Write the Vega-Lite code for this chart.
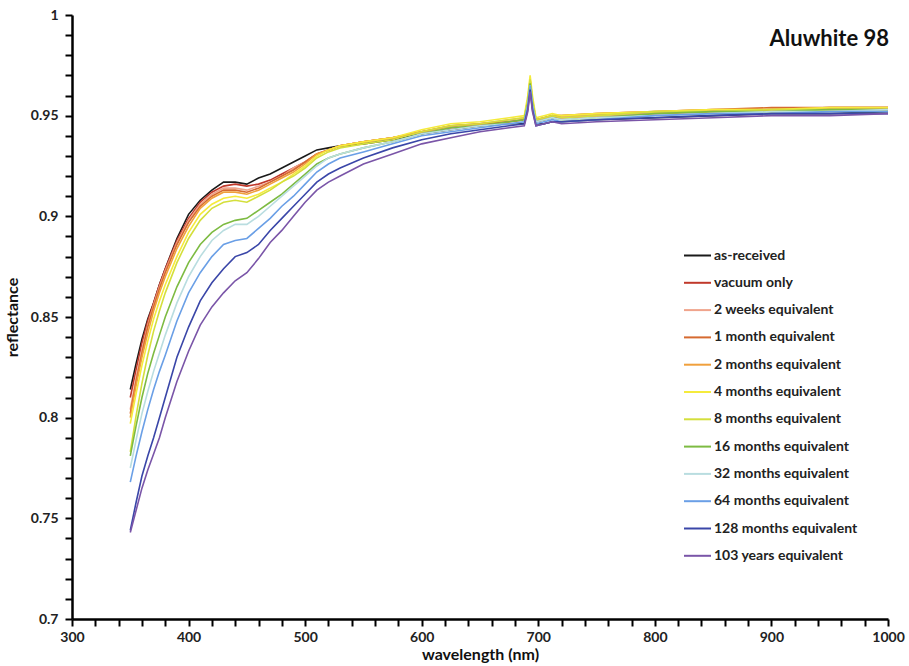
{
  "$schema": "https://vega.github.io/schema/vega-lite/v6.json",
  "width": 816,
  "height": 604,
  "autosize": {"type": "none"},
  "padding": {"left": 72, "top": 15, "right": 21, "bottom": 47},
  "background": "white",
  "config": {"view": {"stroke": null}, "font": "Lato"},
  "title": {"text": "Aluwhite 98", "anchor": "end", "frame": "group", "orient": "top", "baseline": "alphabetic", "dy": 64, "dx": 1, "fontSize": 22, "font": "Lato", "fontWeight": "bold", "color": "#111"},
  "data": {"values": [
{"s":"as-received","w":350,"r":0.814},{"s":"as-received","w":355,"r":0.827},{"s":"as-received","w":360,"r":0.839},{"s":"as-received","w":365,"r":0.849},{"s":"as-received","w":370,"r":0.857},{"s":"as-received","w":375,"r":0.866},{"s":"as-received","w":380,"r":0.874},{"s":"as-received","w":390,"r":0.889},{"s":"as-received","w":400,"r":0.901},{"s":"as-received","w":410,"r":0.908},{"s":"as-received","w":420,"r":0.913},{"s":"as-received","w":430,"r":0.917},{"s":"as-received","w":440,"r":0.917},{"s":"as-received","w":450,"r":0.916},{"s":"as-received","w":460,"r":0.919},{"s":"as-received","w":470,"r":0.921},{"s":"as-received","w":480,"r":0.924},{"s":"as-received","w":490,"r":0.927},{"s":"as-received","w":500,"r":0.930},{"s":"as-received","w":510,"r":0.933},{"s":"as-received","w":520,"r":0.934},{"s":"as-received","w":530,"r":0.935},{"s":"as-received","w":550,"r":0.936},{"s":"as-received","w":575,"r":0.938},{"s":"as-received","w":600,"r":0.941},{"s":"as-received","w":625,"r":0.943},{"s":"as-received","w":650,"r":0.945},{"s":"as-received","w":675,"r":0.946},{"s":"as-received","w":688,"r":0.946},{"s":"as-received","w":691,"r":0.954},{"s":"as-received","w":693,"r":0.965},{"s":"as-received","w":695,"r":0.954},{"s":"as-received","w":698,"r":0.946},{"s":"as-received","w":705,"r":0.946},{"s":"as-received","w":712,"r":0.947},{"s":"as-received","w":720,"r":0.947},{"s":"as-received","w":750,"r":0.948},{"s":"as-received","w":800,"r":0.949},{"s":"as-received","w":850,"r":0.950},{"s":"as-received","w":900,"r":0.951},{"s":"as-received","w":950,"r":0.951},{"s":"as-received","w":1000,"r":0.952},
{"s":"vacuum only","w":350,"r":0.810},{"s":"vacuum only","w":355,"r":0.824},{"s":"vacuum only","w":360,"r":0.837},{"s":"vacuum only","w":365,"r":0.848},{"s":"vacuum only","w":370,"r":0.857},{"s":"vacuum only","w":375,"r":0.866},{"s":"vacuum only","w":380,"r":0.874},{"s":"vacuum only","w":390,"r":0.888},{"s":"vacuum only","w":400,"r":0.899},{"s":"vacuum only","w":410,"r":0.907},{"s":"vacuum only","w":420,"r":0.912},{"s":"vacuum only","w":430,"r":0.915},{"s":"vacuum only","w":440,"r":0.916},{"s":"vacuum only","w":450,"r":0.915},{"s":"vacuum only","w":460,"r":0.916},{"s":"vacuum only","w":470,"r":0.918},{"s":"vacuum only","w":480,"r":0.921},{"s":"vacuum only","w":490,"r":0.924},{"s":"vacuum only","w":500,"r":0.927},{"s":"vacuum only","w":510,"r":0.931},{"s":"vacuum only","w":520,"r":0.933},{"s":"vacuum only","w":530,"r":0.935},{"s":"vacuum only","w":550,"r":0.937},{"s":"vacuum only","w":575,"r":0.939},{"s":"vacuum only","w":600,"r":0.942},{"s":"vacuum only","w":625,"r":0.944},{"s":"vacuum only","w":650,"r":0.946},{"s":"vacuum only","w":675,"r":0.947},{"s":"vacuum only","w":688,"r":0.948},{"s":"vacuum only","w":691,"r":0.957},{"s":"vacuum only","w":693,"r":0.967},{"s":"vacuum only","w":695,"r":0.957},{"s":"vacuum only","w":698,"r":0.947},{"s":"vacuum only","w":705,"r":0.948},{"s":"vacuum only","w":712,"r":0.949},{"s":"vacuum only","w":720,"r":0.949},{"s":"vacuum only","w":750,"r":0.950},{"s":"vacuum only","w":800,"r":0.951},{"s":"vacuum only","w":850,"r":0.952},{"s":"vacuum only","w":900,"r":0.953},{"s":"vacuum only","w":950,"r":0.954},{"s":"vacuum only","w":1000,"r":0.954},
{"s":"2 weeks equivalent","w":350,"r":0.804},{"s":"2 weeks equivalent","w":355,"r":0.820},{"s":"2 weeks equivalent","w":360,"r":0.834},{"s":"2 weeks equivalent","w":365,"r":0.846},{"s":"2 weeks equivalent","w":370,"r":0.856},{"s":"2 weeks equivalent","w":375,"r":0.865},{"s":"2 weeks equivalent","w":380,"r":0.873},{"s":"2 weeks equivalent","w":390,"r":0.887},{"s":"2 weeks equivalent","w":400,"r":0.898},{"s":"2 weeks equivalent","w":410,"r":0.906},{"s":"2 weeks equivalent","w":420,"r":0.911},{"s":"2 weeks equivalent","w":430,"r":0.914},{"s":"2 weeks equivalent","w":440,"r":0.914},{"s":"2 weeks equivalent","w":450,"r":0.913},{"s":"2 weeks equivalent","w":460,"r":0.915},{"s":"2 weeks equivalent","w":470,"r":0.917},{"s":"2 weeks equivalent","w":480,"r":0.920},{"s":"2 weeks equivalent","w":490,"r":0.924},{"s":"2 weeks equivalent","w":500,"r":0.927},{"s":"2 weeks equivalent","w":510,"r":0.931},{"s":"2 weeks equivalent","w":520,"r":0.933},{"s":"2 weeks equivalent","w":530,"r":0.935},{"s":"2 weeks equivalent","w":550,"r":0.937},{"s":"2 weeks equivalent","w":575,"r":0.939},{"s":"2 weeks equivalent","w":600,"r":0.942},{"s":"2 weeks equivalent","w":625,"r":0.944},{"s":"2 weeks equivalent","w":650,"r":0.946},{"s":"2 weeks equivalent","w":675,"r":0.947},{"s":"2 weeks equivalent","w":688,"r":0.948},{"s":"2 weeks equivalent","w":691,"r":0.957},{"s":"2 weeks equivalent","w":693,"r":0.967},{"s":"2 weeks equivalent","w":695,"r":0.957},{"s":"2 weeks equivalent","w":698,"r":0.948},{"s":"2 weeks equivalent","w":705,"r":0.949},{"s":"2 weeks equivalent","w":712,"r":0.950},{"s":"2 weeks equivalent","w":720,"r":0.949},{"s":"2 weeks equivalent","w":750,"r":0.950},{"s":"2 weeks equivalent","w":800,"r":0.951},{"s":"2 weeks equivalent","w":850,"r":0.952},{"s":"2 weeks equivalent","w":900,"r":0.953},{"s":"2 weeks equivalent","w":950,"r":0.953},{"s":"2 weeks equivalent","w":1000,"r":0.953},
{"s":"1 month equivalent","w":350,"r":0.802},{"s":"1 month equivalent","w":355,"r":0.818},{"s":"1 month equivalent","w":360,"r":0.832},{"s":"1 month equivalent","w":365,"r":0.845},{"s":"1 month equivalent","w":370,"r":0.855},{"s":"1 month equivalent","w":375,"r":0.864},{"s":"1 month equivalent","w":380,"r":0.872},{"s":"1 month equivalent","w":390,"r":0.886},{"s":"1 month equivalent","w":400,"r":0.897},{"s":"1 month equivalent","w":410,"r":0.905},{"s":"1 month equivalent","w":420,"r":0.910},{"s":"1 month equivalent","w":430,"r":0.913},{"s":"1 month equivalent","w":440,"r":0.913},{"s":"1 month equivalent","w":450,"r":0.912},{"s":"1 month equivalent","w":460,"r":0.914},{"s":"1 month equivalent","w":470,"r":0.917},{"s":"1 month equivalent","w":480,"r":0.920},{"s":"1 month equivalent","w":490,"r":0.923},{"s":"1 month equivalent","w":500,"r":0.927},{"s":"1 month equivalent","w":510,"r":0.931},{"s":"1 month equivalent","w":520,"r":0.933},{"s":"1 month equivalent","w":530,"r":0.935},{"s":"1 month equivalent","w":550,"r":0.937},{"s":"1 month equivalent","w":575,"r":0.939},{"s":"1 month equivalent","w":600,"r":0.942},{"s":"1 month equivalent","w":625,"r":0.945},{"s":"1 month equivalent","w":650,"r":0.946},{"s":"1 month equivalent","w":675,"r":0.947},{"s":"1 month equivalent","w":688,"r":0.948},{"s":"1 month equivalent","w":691,"r":0.957},{"s":"1 month equivalent","w":693,"r":0.967},{"s":"1 month equivalent","w":695,"r":0.957},{"s":"1 month equivalent","w":698,"r":0.948},{"s":"1 month equivalent","w":705,"r":0.949},{"s":"1 month equivalent","w":712,"r":0.950},{"s":"1 month equivalent","w":720,"r":0.950},{"s":"1 month equivalent","w":750,"r":0.951},{"s":"1 month equivalent","w":800,"r":0.952},{"s":"1 month equivalent","w":850,"r":0.953},{"s":"1 month equivalent","w":900,"r":0.954},{"s":"1 month equivalent","w":950,"r":0.954},{"s":"1 month equivalent","w":1000,"r":0.954},
{"s":"2 months equivalent","w":350,"r":0.800},{"s":"2 months equivalent","w":355,"r":0.816},{"s":"2 months equivalent","w":360,"r":0.830},{"s":"2 months equivalent","w":365,"r":0.842},{"s":"2 months equivalent","w":370,"r":0.853},{"s":"2 months equivalent","w":375,"r":0.862},{"s":"2 months equivalent","w":380,"r":0.870},{"s":"2 months equivalent","w":390,"r":0.884},{"s":"2 months equivalent","w":400,"r":0.895},{"s":"2 months equivalent","w":410,"r":0.904},{"s":"2 months equivalent","w":420,"r":0.909},{"s":"2 months equivalent","w":430,"r":0.912},{"s":"2 months equivalent","w":440,"r":0.912},{"s":"2 months equivalent","w":450,"r":0.911},{"s":"2 months equivalent","w":460,"r":0.913},{"s":"2 months equivalent","w":470,"r":0.916},{"s":"2 months equivalent","w":480,"r":0.919},{"s":"2 months equivalent","w":490,"r":0.922},{"s":"2 months equivalent","w":500,"r":0.926},{"s":"2 months equivalent","w":510,"r":0.931},{"s":"2 months equivalent","w":520,"r":0.933},{"s":"2 months equivalent","w":530,"r":0.935},{"s":"2 months equivalent","w":550,"r":0.937},{"s":"2 months equivalent","w":575,"r":0.939},{"s":"2 months equivalent","w":600,"r":0.942},{"s":"2 months equivalent","w":625,"r":0.945},{"s":"2 months equivalent","w":650,"r":0.946},{"s":"2 months equivalent","w":675,"r":0.948},{"s":"2 months equivalent","w":688,"r":0.949},{"s":"2 months equivalent","w":691,"r":0.958},{"s":"2 months equivalent","w":693,"r":0.968},{"s":"2 months equivalent","w":695,"r":0.958},{"s":"2 months equivalent","w":698,"r":0.948},{"s":"2 months equivalent","w":705,"r":0.949},{"s":"2 months equivalent","w":712,"r":0.950},{"s":"2 months equivalent","w":720,"r":0.950},{"s":"2 months equivalent","w":750,"r":0.951},{"s":"2 months equivalent","w":800,"r":0.952},{"s":"2 months equivalent","w":850,"r":0.953},{"s":"2 months equivalent","w":900,"r":0.953},{"s":"2 months equivalent","w":950,"r":0.954},{"s":"2 months equivalent","w":1000,"r":0.954},
{"s":"4 months equivalent","w":350,"r":0.797},{"s":"4 months equivalent","w":355,"r":0.812},{"s":"4 months equivalent","w":360,"r":0.826},{"s":"4 months equivalent","w":365,"r":0.838},{"s":"4 months equivalent","w":370,"r":0.849},{"s":"4 months equivalent","w":375,"r":0.858},{"s":"4 months equivalent","w":380,"r":0.866},{"s":"4 months equivalent","w":390,"r":0.880},{"s":"4 months equivalent","w":400,"r":0.892},{"s":"4 months equivalent","w":410,"r":0.901},{"s":"4 months equivalent","w":420,"r":0.906},{"s":"4 months equivalent","w":430,"r":0.909},{"s":"4 months equivalent","w":440,"r":0.910},{"s":"4 months equivalent","w":450,"r":0.909},{"s":"4 months equivalent","w":460,"r":0.911},{"s":"4 months equivalent","w":470,"r":0.914},{"s":"4 months equivalent","w":480,"r":0.917},{"s":"4 months equivalent","w":490,"r":0.921},{"s":"4 months equivalent","w":500,"r":0.925},{"s":"4 months equivalent","w":510,"r":0.930},{"s":"4 months equivalent","w":520,"r":0.933},{"s":"4 months equivalent","w":530,"r":0.935},{"s":"4 months equivalent","w":550,"r":0.937},{"s":"4 months equivalent","w":575,"r":0.939},{"s":"4 months equivalent","w":600,"r":0.943},{"s":"4 months equivalent","w":625,"r":0.946},{"s":"4 months equivalent","w":650,"r":0.947},{"s":"4 months equivalent","w":675,"r":0.949},{"s":"4 months equivalent","w":688,"r":0.950},{"s":"4 months equivalent","w":691,"r":0.960},{"s":"4 months equivalent","w":693,"r":0.970},{"s":"4 months equivalent","w":695,"r":0.960},{"s":"4 months equivalent","w":698,"r":0.949},{"s":"4 months equivalent","w":705,"r":0.950},{"s":"4 months equivalent","w":712,"r":0.951},{"s":"4 months equivalent","w":720,"r":0.950},{"s":"4 months equivalent","w":750,"r":0.951},{"s":"4 months equivalent","w":800,"r":0.952},{"s":"4 months equivalent","w":850,"r":0.953},{"s":"4 months equivalent","w":900,"r":0.953},{"s":"4 months equivalent","w":950,"r":0.954},{"s":"4 months equivalent","w":1000,"r":0.954},
{"s":"8 months equivalent","w":350,"r":0.783},{"s":"8 months equivalent","w":355,"r":0.801},{"s":"8 months equivalent","w":360,"r":0.817},{"s":"8 months equivalent","w":365,"r":0.831},{"s":"8 months equivalent","w":370,"r":0.843},{"s":"8 months equivalent","w":375,"r":0.853},{"s":"8 months equivalent","w":380,"r":0.862},{"s":"8 months equivalent","w":390,"r":0.877},{"s":"8 months equivalent","w":400,"r":0.889},{"s":"8 months equivalent","w":410,"r":0.898},{"s":"8 months equivalent","w":420,"r":0.904},{"s":"8 months equivalent","w":430,"r":0.907},{"s":"8 months equivalent","w":440,"r":0.908},{"s":"8 months equivalent","w":450,"r":0.907},{"s":"8 months equivalent","w":460,"r":0.910},{"s":"8 months equivalent","w":470,"r":0.913},{"s":"8 months equivalent","w":480,"r":0.917},{"s":"8 months equivalent","w":490,"r":0.920},{"s":"8 months equivalent","w":500,"r":0.924},{"s":"8 months equivalent","w":510,"r":0.929},{"s":"8 months equivalent","w":520,"r":0.932},{"s":"8 months equivalent","w":530,"r":0.934},{"s":"8 months equivalent","w":550,"r":0.936},{"s":"8 months equivalent","w":575,"r":0.938},{"s":"8 months equivalent","w":600,"r":0.942},{"s":"8 months equivalent","w":625,"r":0.945},{"s":"8 months equivalent","w":650,"r":0.946},{"s":"8 months equivalent","w":675,"r":0.948},{"s":"8 months equivalent","w":688,"r":0.949},{"s":"8 months equivalent","w":691,"r":0.958},{"s":"8 months equivalent","w":693,"r":0.968},{"s":"8 months equivalent","w":695,"r":0.958},{"s":"8 months equivalent","w":698,"r":0.948},{"s":"8 months equivalent","w":705,"r":0.949},{"s":"8 months equivalent","w":712,"r":0.950},{"s":"8 months equivalent","w":720,"r":0.949},{"s":"8 months equivalent","w":750,"r":0.950},{"s":"8 months equivalent","w":800,"r":0.952},{"s":"8 months equivalent","w":850,"r":0.952},{"s":"8 months equivalent","w":900,"r":0.953},{"s":"8 months equivalent","w":950,"r":0.953},{"s":"8 months equivalent","w":1000,"r":0.953},
{"s":"16 months equivalent","w":350,"r":0.781},{"s":"16 months equivalent","w":355,"r":0.796},{"s":"16 months equivalent","w":360,"r":0.810},{"s":"16 months equivalent","w":365,"r":0.822},{"s":"16 months equivalent","w":370,"r":0.832},{"s":"16 months equivalent","w":375,"r":0.841},{"s":"16 months equivalent","w":380,"r":0.850},{"s":"16 months equivalent","w":390,"r":0.865},{"s":"16 months equivalent","w":400,"r":0.877},{"s":"16 months equivalent","w":410,"r":0.886},{"s":"16 months equivalent","w":420,"r":0.892},{"s":"16 months equivalent","w":430,"r":0.896},{"s":"16 months equivalent","w":440,"r":0.898},{"s":"16 months equivalent","w":450,"r":0.899},{"s":"16 months equivalent","w":460,"r":0.903},{"s":"16 months equivalent","w":470,"r":0.907},{"s":"16 months equivalent","w":480,"r":0.911},{"s":"16 months equivalent","w":490,"r":0.916},{"s":"16 months equivalent","w":500,"r":0.921},{"s":"16 months equivalent","w":510,"r":0.926},{"s":"16 months equivalent","w":520,"r":0.929},{"s":"16 months equivalent","w":530,"r":0.931},{"s":"16 months equivalent","w":550,"r":0.934},{"s":"16 months equivalent","w":575,"r":0.937},{"s":"16 months equivalent","w":600,"r":0.941},{"s":"16 months equivalent","w":625,"r":0.944},{"s":"16 months equivalent","w":650,"r":0.945},{"s":"16 months equivalent","w":675,"r":0.947},{"s":"16 months equivalent","w":688,"r":0.948},{"s":"16 months equivalent","w":691,"r":0.956},{"s":"16 months equivalent","w":693,"r":0.966},{"s":"16 months equivalent","w":695,"r":0.956},{"s":"16 months equivalent","w":698,"r":0.947},{"s":"16 months equivalent","w":705,"r":0.948},{"s":"16 months equivalent","w":712,"r":0.949},{"s":"16 months equivalent","w":720,"r":0.948},{"s":"16 months equivalent","w":750,"r":0.949},{"s":"16 months equivalent","w":800,"r":0.951},{"s":"16 months equivalent","w":850,"r":0.952},{"s":"16 months equivalent","w":900,"r":0.952},{"s":"16 months equivalent","w":950,"r":0.953},{"s":"16 months equivalent","w":1000,"r":0.953},
{"s":"32 months equivalent","w":350,"r":0.775},{"s":"32 months equivalent","w":355,"r":0.789},{"s":"32 months equivalent","w":360,"r":0.802},{"s":"32 months equivalent","w":365,"r":0.813},{"s":"32 months equivalent","w":370,"r":0.823},{"s":"32 months equivalent","w":375,"r":0.832},{"s":"32 months equivalent","w":380,"r":0.841},{"s":"32 months equivalent","w":390,"r":0.857},{"s":"32 months equivalent","w":400,"r":0.870},{"s":"32 months equivalent","w":410,"r":0.880},{"s":"32 months equivalent","w":420,"r":0.888},{"s":"32 months equivalent","w":430,"r":0.893},{"s":"32 months equivalent","w":440,"r":0.896},{"s":"32 months equivalent","w":450,"r":0.896},{"s":"32 months equivalent","w":460,"r":0.900},{"s":"32 months equivalent","w":470,"r":0.905},{"s":"32 months equivalent","w":480,"r":0.910},{"s":"32 months equivalent","w":490,"r":0.915},{"s":"32 months equivalent","w":500,"r":0.920},{"s":"32 months equivalent","w":510,"r":0.925},{"s":"32 months equivalent","w":520,"r":0.929},{"s":"32 months equivalent","w":530,"r":0.931},{"s":"32 months equivalent","w":550,"r":0.934},{"s":"32 months equivalent","w":575,"r":0.937},{"s":"32 months equivalent","w":600,"r":0.941},{"s":"32 months equivalent","w":625,"r":0.943},{"s":"32 months equivalent","w":650,"r":0.945},{"s":"32 months equivalent","w":675,"r":0.946},{"s":"32 months equivalent","w":688,"r":0.947},{"s":"32 months equivalent","w":691,"r":0.955},{"s":"32 months equivalent","w":693,"r":0.965},{"s":"32 months equivalent","w":695,"r":0.955},{"s":"32 months equivalent","w":698,"r":0.947},{"s":"32 months equivalent","w":705,"r":0.948},{"s":"32 months equivalent","w":712,"r":0.949},{"s":"32 months equivalent","w":720,"r":0.948},{"s":"32 months equivalent","w":750,"r":0.949},{"s":"32 months equivalent","w":800,"r":0.950},{"s":"32 months equivalent","w":850,"r":0.951},{"s":"32 months equivalent","w":900,"r":0.952},{"s":"32 months equivalent","w":950,"r":0.952},{"s":"32 months equivalent","w":1000,"r":0.953},
{"s":"64 months equivalent","w":350,"r":0.768},{"s":"64 months equivalent","w":355,"r":0.781},{"s":"64 months equivalent","w":360,"r":0.793},{"s":"64 months equivalent","w":365,"r":0.804},{"s":"64 months equivalent","w":370,"r":0.814},{"s":"64 months equivalent","w":375,"r":0.823},{"s":"64 months equivalent","w":380,"r":0.831},{"s":"64 months equivalent","w":390,"r":0.848},{"s":"64 months equivalent","w":400,"r":0.862},{"s":"64 months equivalent","w":410,"r":0.872},{"s":"64 months equivalent","w":420,"r":0.880},{"s":"64 months equivalent","w":430,"r":0.886},{"s":"64 months equivalent","w":440,"r":0.888},{"s":"64 months equivalent","w":450,"r":0.889},{"s":"64 months equivalent","w":460,"r":0.894},{"s":"64 months equivalent","w":470,"r":0.899},{"s":"64 months equivalent","w":480,"r":0.905},{"s":"64 months equivalent","w":490,"r":0.910},{"s":"64 months equivalent","w":500,"r":0.916},{"s":"64 months equivalent","w":510,"r":0.922},{"s":"64 months equivalent","w":520,"r":0.926},{"s":"64 months equivalent","w":530,"r":0.929},{"s":"64 months equivalent","w":550,"r":0.932},{"s":"64 months equivalent","w":575,"r":0.936},{"s":"64 months equivalent","w":600,"r":0.940},{"s":"64 months equivalent","w":625,"r":0.942},{"s":"64 months equivalent","w":650,"r":0.944},{"s":"64 months equivalent","w":675,"r":0.946},{"s":"64 months equivalent","w":688,"r":0.947},{"s":"64 months equivalent","w":691,"r":0.955},{"s":"64 months equivalent","w":693,"r":0.965},{"s":"64 months equivalent","w":695,"r":0.955},{"s":"64 months equivalent","w":698,"r":0.946},{"s":"64 months equivalent","w":705,"r":0.947},{"s":"64 months equivalent","w":712,"r":0.948},{"s":"64 months equivalent","w":720,"r":0.947},{"s":"64 months equivalent","w":750,"r":0.948},{"s":"64 months equivalent","w":800,"r":0.950},{"s":"64 months equivalent","w":850,"r":0.951},{"s":"64 months equivalent","w":900,"r":0.951},{"s":"64 months equivalent","w":950,"r":0.952},{"s":"64 months equivalent","w":1000,"r":0.952},
{"s":"128 months equivalent","w":350,"r":0.744},{"s":"128 months equivalent","w":355,"r":0.758},{"s":"128 months equivalent","w":360,"r":0.771},{"s":"128 months equivalent","w":365,"r":0.781},{"s":"128 months equivalent","w":370,"r":0.790},{"s":"128 months equivalent","w":375,"r":0.800},{"s":"128 months equivalent","w":380,"r":0.810},{"s":"128 months equivalent","w":390,"r":0.830},{"s":"128 months equivalent","w":400,"r":0.845},{"s":"128 months equivalent","w":410,"r":0.858},{"s":"128 months equivalent","w":420,"r":0.867},{"s":"128 months equivalent","w":430,"r":0.874},{"s":"128 months equivalent","w":440,"r":0.880},{"s":"128 months equivalent","w":450,"r":0.882},{"s":"128 months equivalent","w":460,"r":0.886},{"s":"128 months equivalent","w":470,"r":0.893},{"s":"128 months equivalent","w":480,"r":0.899},{"s":"128 months equivalent","w":490,"r":0.905},{"s":"128 months equivalent","w":500,"r":0.911},{"s":"128 months equivalent","w":510,"r":0.917},{"s":"128 months equivalent","w":520,"r":0.921},{"s":"128 months equivalent","w":530,"r":0.924},{"s":"128 months equivalent","w":550,"r":0.929},{"s":"128 months equivalent","w":575,"r":0.934},{"s":"128 months equivalent","w":600,"r":0.938},{"s":"128 months equivalent","w":625,"r":0.941},{"s":"128 months equivalent","w":650,"r":0.943},{"s":"128 months equivalent","w":675,"r":0.945},{"s":"128 months equivalent","w":688,"r":0.946},{"s":"128 months equivalent","w":691,"r":0.953},{"s":"128 months equivalent","w":693,"r":0.963},{"s":"128 months equivalent","w":695,"r":0.953},{"s":"128 months equivalent","w":698,"r":0.945},{"s":"128 months equivalent","w":705,"r":0.946},{"s":"128 months equivalent","w":712,"r":0.947},{"s":"128 months equivalent","w":720,"r":0.947},{"s":"128 months equivalent","w":750,"r":0.948},{"s":"128 months equivalent","w":800,"r":0.949},{"s":"128 months equivalent","w":850,"r":0.950},{"s":"128 months equivalent","w":900,"r":0.951},{"s":"128 months equivalent","w":950,"r":0.951},{"s":"128 months equivalent","w":1000,"r":0.951},
{"s":"103 years equivalent","w":350,"r":0.743},{"s":"103 years equivalent","w":355,"r":0.754},{"s":"103 years equivalent","w":360,"r":0.765},{"s":"103 years equivalent","w":365,"r":0.774},{"s":"103 years equivalent","w":370,"r":0.782},{"s":"103 years equivalent","w":375,"r":0.790},{"s":"103 years equivalent","w":380,"r":0.800},{"s":"103 years equivalent","w":390,"r":0.818},{"s":"103 years equivalent","w":400,"r":0.833},{"s":"103 years equivalent","w":410,"r":0.846},{"s":"103 years equivalent","w":420,"r":0.855},{"s":"103 years equivalent","w":430,"r":0.862},{"s":"103 years equivalent","w":440,"r":0.868},{"s":"103 years equivalent","w":450,"r":0.872},{"s":"103 years equivalent","w":460,"r":0.879},{"s":"103 years equivalent","w":470,"r":0.887},{"s":"103 years equivalent","w":480,"r":0.893},{"s":"103 years equivalent","w":490,"r":0.900},{"s":"103 years equivalent","w":500,"r":0.907},{"s":"103 years equivalent","w":510,"r":0.913},{"s":"103 years equivalent","w":520,"r":0.917},{"s":"103 years equivalent","w":530,"r":0.920},{"s":"103 years equivalent","w":550,"r":0.926},{"s":"103 years equivalent","w":575,"r":0.931},{"s":"103 years equivalent","w":600,"r":0.936},{"s":"103 years equivalent","w":625,"r":0.939},{"s":"103 years equivalent","w":650,"r":0.942},{"s":"103 years equivalent","w":675,"r":0.944},{"s":"103 years equivalent","w":688,"r":0.945},{"s":"103 years equivalent","w":691,"r":0.952},{"s":"103 years equivalent","w":693,"r":0.962},{"s":"103 years equivalent","w":695,"r":0.952},{"s":"103 years equivalent","w":698,"r":0.945},{"s":"103 years equivalent","w":705,"r":0.946},{"s":"103 years equivalent","w":712,"r":0.947},{"s":"103 years equivalent","w":720,"r":0.946},{"s":"103 years equivalent","w":750,"r":0.947},{"s":"103 years equivalent","w":800,"r":0.948},{"s":"103 years equivalent","w":850,"r":0.949},{"s":"103 years equivalent","w":900,"r":0.950},{"s":"103 years equivalent","w":950,"r":0.950},{"s":"103 years equivalent","w":1000,"r":0.951}
  ]},
  "mark": {"type": "line", "strokeWidth": 1.6, "clip": true},
  "encoding": {
    "x": {"field": "w", "type": "quantitative", "title": "wavelength (nm)",
      "scale": {"domain": [300, 1000], "nice": false, "zero": false},
      "axis": {"values": [300,320,340,360,380,400,420,440,460,480,500,520,540,560,580,600,620,640,660,680,700,720,740,760,780,800,820,840,860,880,900,920,940,960,980,1000],
        "labelExpr": "datum.value % 100 == 0 ? format(datum.value, 'd') : ''",
        "grid": false, "ticks": true, "domainColor": "#000", "domainWidth": 2.5, "tickColor": "#000", "tickWidth": 2, "tickSize": 7, "tickOpacity": 1,
        "labelFont": "Lato", "labelFontSize": 14, "labelFontWeight": "bold", "labelColor": "#222", "labelPadding": 4, "labelFlush": false,
        "titleFont": "Lato", "titleFontSize": 16, "titleFontWeight": "bold", "titleColor": "#111", "titlePadding": 2}},
    "y": {"field": "r", "type": "quantitative", "title": "reflectance",
      "scale": {"domain": [0.7, 1.0], "nice": false, "zero": false},
      "axis": {"values": [0.70,0.71,0.72,0.73,0.74,0.75,0.76,0.77,0.78,0.79,0.80,0.81,0.82,0.83,0.84,0.85,0.86,0.87,0.88,0.89,0.90,0.91,0.92,0.93,0.94,0.95,0.96,0.97,0.98,0.99,1.0],
        "labelExpr": "round(datum.value * 100) % 5 == 0 ? format(datum.value, '.2~f') : ''",
        "grid": false, "ticks": true, "domainColor": "#000", "domainWidth": 2.5, "tickColor": "#000", "tickWidth": 2, "tickSize": 7, "tickOpacity": 1,
        "labelFont": "Lato", "labelFontSize": 14, "labelFontWeight": "bold", "labelColor": "#222", "labelPadding": 7, "labelFlush": false,
        "titleFont": "Lato", "titleFontSize": 16, "titleFontWeight": "bold", "titleColor": "#111", "titlePadding": 10}},
    "color": {"field": "s", "type": "nominal", "title": null, "sort": null,
      "scale": {"domain": ["as-received","vacuum only","2 weeks equivalent","1 month equivalent","2 months equivalent","4 months equivalent","8 months equivalent","16 months equivalent","32 months equivalent","64 months equivalent","128 months equivalent","103 years equivalent"],
        "range": ["#1a1a1a","#c0392b","#f0a48c","#d66a30","#f0a03c","#f5eb3c","#d4df3c","#7dbb42","#b9dde0","#6a9fe6","#3a46a8","#7a55a8"]},
      "legend": {"orient": "none", "legendX": 611, "legendY": 226, "symbolType": "stroke", "symbolSize": 729, "symbolStrokeWidth": 2, "rowPadding": 5.3, "labelOffset": 2,
        "labelFont": "Lato", "labelFontSize": 14, "labelFontWeight": "bold", "labelColor": "#222", "labelLimit": 300}}
  }
}
